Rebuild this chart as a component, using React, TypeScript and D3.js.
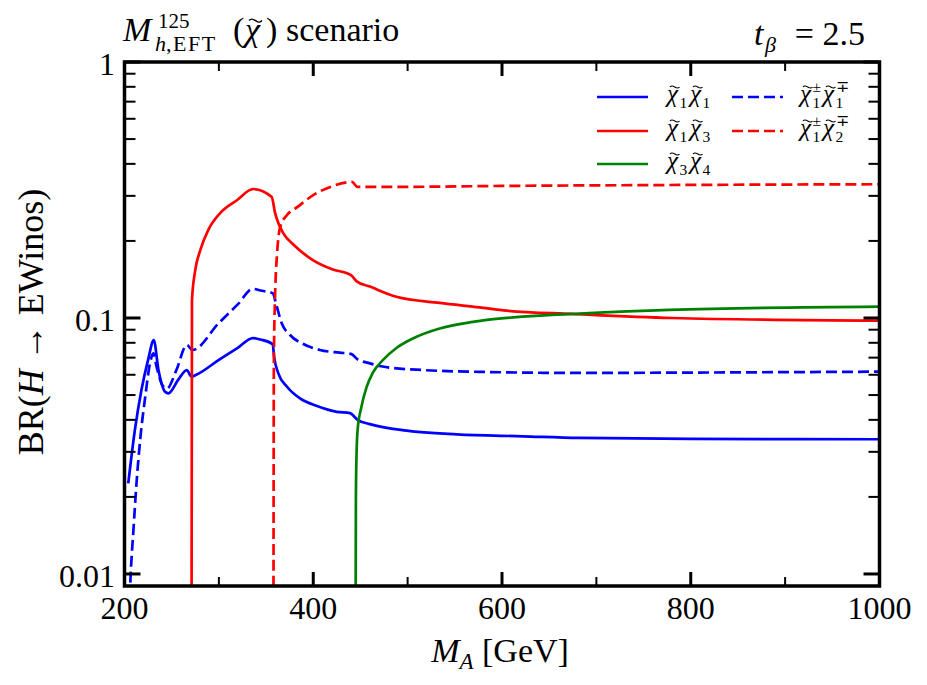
import React from 'react';
import * as d3 from 'd3';

// chi1 chi1 (blue solid)
const mA_chi1chi1 = [204, 211, 218, 225, 231, 236, 243, 246.5, 257, 266, 271, 276, 300, 320, 336, 344, 357, 358.5, 363, 372, 386, 404, 425, 439, 447, 460, 499, 552, 622, 682, 800, 1000];
const br_chi1chi1 = [0.0226, 0.0365, 0.0524, 0.0686, 0.082, 0.0626, 0.0515, 0.0508, 0.0574, 0.0626, 0.059, 0.06, 0.0686, 0.0764, 0.0835, 0.0824, 0.0791, 0.0706, 0.0608, 0.054, 0.0485, 0.0453, 0.043, 0.0425, 0.04, 0.0385, 0.0363, 0.0351, 0.0345, 0.0340, 0.0337, 0.0336];

// chi1+- chi1-+ (blue dashed)
const mA_chi1pchi1m = [204.5, 206, 209.5, 213, 216.6, 222, 227, 230.6, 234, 241, 245, 255, 266, 272, 300, 320, 336, 344, 357, 361.4, 366.6, 375.4, 389.5, 407, 428, 440, 447, 460, 470, 516, 587, 682, 800, 1000];
const br_chi1pchi1m = [0.006, 0.0089, 0.0149, 0.0233, 0.0334, 0.0493, 0.0665, 0.0728, 0.0645, 0.054, 0.053, 0.0626, 0.0785, 0.075, 0.0956, 0.113, 0.13, 0.128, 0.125, 0.1107, 0.0953, 0.0858, 0.0791, 0.075, 0.0732, 0.0724, 0.0689, 0.0665, 0.0649, 0.0626, 0.0615, 0.0610, 0.0612, 0.0617];

// chi1 chi3 (red solid)
const mA_chi1chi3 = [271, 271.5, 275, 280.3, 288.8, 301.4, 319.4, 336.3, 356, 359.6, 363, 368, 380, 400, 420, 440, 446, 460, 488, 534, 576, 605, 675, 780, 1000];
const br_chi1chi3 = [0.005, 0.1175, 0.154, 0.184, 0.221, 0.257, 0.289, 0.319, 0.297, 0.257, 0.235, 0.215, 0.192, 0.168, 0.155, 0.147, 0.139, 0.1326, 0.121, 0.1145, 0.11, 0.1068, 0.1037, 0.1, 0.0976];

// chi1+- chi2-+ (red dashed)
const mA_chi1pchi2m = [357.8, 358.3, 359.5, 361.7, 365, 372, 383, 400, 418, 441, 447, 480, 600, 800, 1000];
const br_chi1pchi2m = [0.005, 0.07, 0.12, 0.179, 0.227, 0.252, 0.271, 0.302, 0.325, 0.34, 0.325, 0.325, 0.328, 0.331, 0.333];

// chi3 chi4 (green solid)
const mA_chi3chi4 = [444.8, 445.2, 445.8, 447, 451, 456.5, 463, 474, 488.5, 505, 534, 569, 622, 682, 777, 1000];
const br_chi3chi4 = [0.005, 0.02, 0.0286, 0.0365, 0.0449, 0.0537, 0.061, 0.0686, 0.0765, 0.083, 0.091, 0.0965, 0.1012, 0.104, 0.1075, 0.1107];

const xMajorTicks = [200, 400, 600, 800, 1000];
const xMinorTicks = [300, 500, 700, 900];
const xTickLabels = ['200', '400', '600', '800', '1000'];
const yMajorTicks = [0.01, 0.1, 1];
const yTickLabels = ['0.01', '0.1', '1'];
const yMinorTicks = [0.02, 0.03, 0.04, 0.05, 0.06, 0.07, 0.08, 0.09, 0.2, 0.3, 0.4, 0.5, 0.6, 0.7, 0.8, 0.9];

const FONT = "'Liberation Serif', 'Times New Roman', serif";
const tf = { fontFamily: FONT };

// chi with a tilde accent drawn as a path
function ChiT({ x, y, fs, sub, sup }: { x: number; y: number; fs: number; sub?: string; sup?: string }) {
  const w = fs * 0.5;
  const tw = fs * 0.38;
  const th = fs * 0.09;
  const x0 = x + w * 0.62 - tw / 2;
  const y0 = y - fs * 0.6;
  const sfs = fs * 0.62;
  return (
    <g>
      <text x={x} y={y} fontSize={fs} fontStyle="italic" style={tf}>χ</text>
      <path d={`M${x0},${y0} C${x0 + tw * 0.35},${y0 - th * 1.8} ${x0 + tw * 0.65},${y0 + th * 1.8} ${x0 + tw},${y0}`}
        fill="none" stroke="#000" strokeWidth={fs * 0.045} />
      {sup ? <text x={x + w} y={y - fs * 0.42} fontSize={sfs} style={tf}>{sup}</text> : null}
      {sub ? <text x={x + w} y={y + fs * 0.22} fontSize={sfs} style={tf}>{sub}</text> : null}
    </g>
  );
}

export default function App() {
  const W = 927, H = 685;
  const L = 124.5, R = 879.5, T = 62, B = 586;
  const x = d3.scaleLinear().domain([200, 1000]).range([L, R]);
  const y = d3.scaleLog().domain([Math.pow(10, -2.047), 1]).range([B, T]);
  const line = d3.line<[number, number]>().x(d => x(d[0])).y(d => y(d[1])).curve(d3.curveMonotoneX);

  const series = [
    { m: mA_chi1chi1, br: br_chi1chi1, color: '#0000ff', dash: '' },
    { m: mA_chi1pchi1m, br: br_chi1pchi1m, color: '#0000ff', dash: '11,5' },
    { m: mA_chi1chi3, br: br_chi1chi3, color: '#ff0000', dash: '' },
    { m: mA_chi1pchi2m, br: br_chi1pchi2m, color: '#ff0000', dash: '11,5' },
    { m: mA_chi3chi4, br: br_chi3chi4, color: '#008000', dash: '' },
  ];

  const legendItems = [
    { col: 0, row: 0, color: '#0000ff', dash: '', a: '1', b: '1', sa: '', sb: '' },
    { col: 0, row: 1, color: '#ff0000', dash: '', a: '1', b: '3', sa: '', sb: '' },
    { col: 0, row: 2, color: '#008000', dash: '', a: '3', b: '4', sa: '', sb: '' },
    { col: 1, row: 0, color: '#0000ff', dash: '11,5', a: '1', b: '1', sa: '±', sb: '∓' },
    { col: 1, row: 1, color: '#ff0000', dash: '11,5', a: '1', b: '2', sa: '±', sb: '∓' },
  ];
  const colX = [597, 732];
  const labX = [667, 800];
  const rowY = [97, 131, 164];
  const lfs = 25;

  return (
    <svg width={W} height={H} style={{ position: 'absolute', left: 0, top: 0, background: '#fff', fontFamily: FONT }}>
      <defs>
        <clipPath id="plotclip">
          <rect x={L} y={T} width={R - L} height={B - T} />
        </clipPath>
      </defs>
      <rect x={0} y={0} width={W} height={H} fill="#fff" />
      <g clipPath="url(#plotclip)">
        {series.map((s, i) => (
          <path key={i} d={line(s.m.map((v, j) => [v, s.br[j]] as [number, number])) || ''}
            fill="none" stroke={s.color} strokeWidth={2.7} strokeDasharray={s.dash || undefined}
            strokeLinejoin="round" />
        ))}
      </g>
      {xMajorTicks.map((t, i) => (
        <g key={'xM' + i}>
          <line x1={x(t)} x2={x(t)} y1={B} y2={B - 14} stroke="#000" strokeWidth={3} />
          <line x1={x(t)} x2={x(t)} y1={T} y2={T + 14} stroke="#000" strokeWidth={3} />
          <text x={x(t)} y={619} textAnchor="middle" fontSize={32} style={tf}>{xTickLabels[i]}</text>
        </g>
      ))}
      {xMinorTicks.map((t, i) => (
        <g key={'xm' + i}>
          <line x1={x(t)} x2={x(t)} y1={B} y2={B - 9} stroke="#000" strokeWidth={2} />
          <line x1={x(t)} x2={x(t)} y1={T} y2={T + 9} stroke="#000" strokeWidth={2} />
        </g>
      ))}
      {yMajorTicks.map((t, i) => (
        <g key={'yM' + i}>
          <line x1={L} x2={L + 16} y1={y(t)} y2={y(t)} stroke="#000" strokeWidth={3} />
          <line x1={R} x2={R - 16} y1={y(t)} y2={y(t)} stroke="#000" strokeWidth={3} />
          <text x={115} y={y(t) + 13} textAnchor="end" fontSize={32} style={tf}>{yTickLabels[i]}</text>
        </g>
      ))}
      {yMinorTicks.map((t, i) => (
        <g key={'ym' + i}>
          <line x1={L} x2={L + 11} y1={y(t)} y2={y(t)} stroke="#000" strokeWidth={2} />
          <line x1={R} x2={R - 11} y1={y(t)} y2={y(t)} stroke="#000" strokeWidth={2} />
        </g>
      ))}
      <rect x={L} y={T} width={R - L} height={B - T} fill="none" stroke="#000" strokeWidth={3.5} />

      {legendItems.map((it, i) => (
        <g key={'lg' + i}>
          <line x1={colX[it.col]} x2={colX[it.col] + 51} y1={rowY[it.row]} y2={rowY[it.row]}
            stroke={it.color} strokeWidth={2.7} strokeDasharray={it.dash || undefined} />
          <ChiT x={labX[it.col]} y={rowY[it.row] + 5} fs={lfs} sub={it.a} sup={it.sa || undefined} />
          <ChiT x={labX[it.col] + 23} y={rowY[it.row] + 5} fs={lfs} sub={it.b} sup={it.sb || undefined} />
        </g>
      ))}

      {/* title */}
      <text x={123} y={41} fontSize={34} fontStyle="italic" style={tf}>M</text>
      <text x={155} y={51} fontSize={22} style={tf}><tspan fontStyle="italic">h</tspan><tspan letterSpacing={1.5}>,EFT</tspan></text>
      <text x={158} y={28} fontSize={21} style={tf}>125</text>
      <text x={233} y={41} fontSize={34} style={tf}>(</text>
      <ChiT x={245} y={41} fs={34} />
      <text x={266} y={41} fontSize={34} style={tf}>)</text>
      <text x={286} y={41} fontSize={34} style={tf}>scenario</text>

      <text x={754} y={45} fontSize={34} fontStyle="italic" style={tf}>t</text>
      <text x={765} y={52} fontSize={22} fontStyle="italic" style={tf}>β</text>
      <text x={865} y={45} fontSize={34} textAnchor="end" style={tf}>= 2.5</text>

      <text x={500} y={662} fontSize={34} textAnchor="middle" style={tf}><tspan fontStyle="italic">M</tspan><tspan fontSize={23} fontStyle="italic" dy={7}>A</tspan><tspan dy={-7}> [GeV]</tspan></text>
      <text transform="translate(43,322) rotate(-90)" fontSize={36} textAnchor="middle" style={tf}>BR(<tspan fontStyle="italic">H</tspan> →  EWinos)</text>
    </svg>
  );
}
